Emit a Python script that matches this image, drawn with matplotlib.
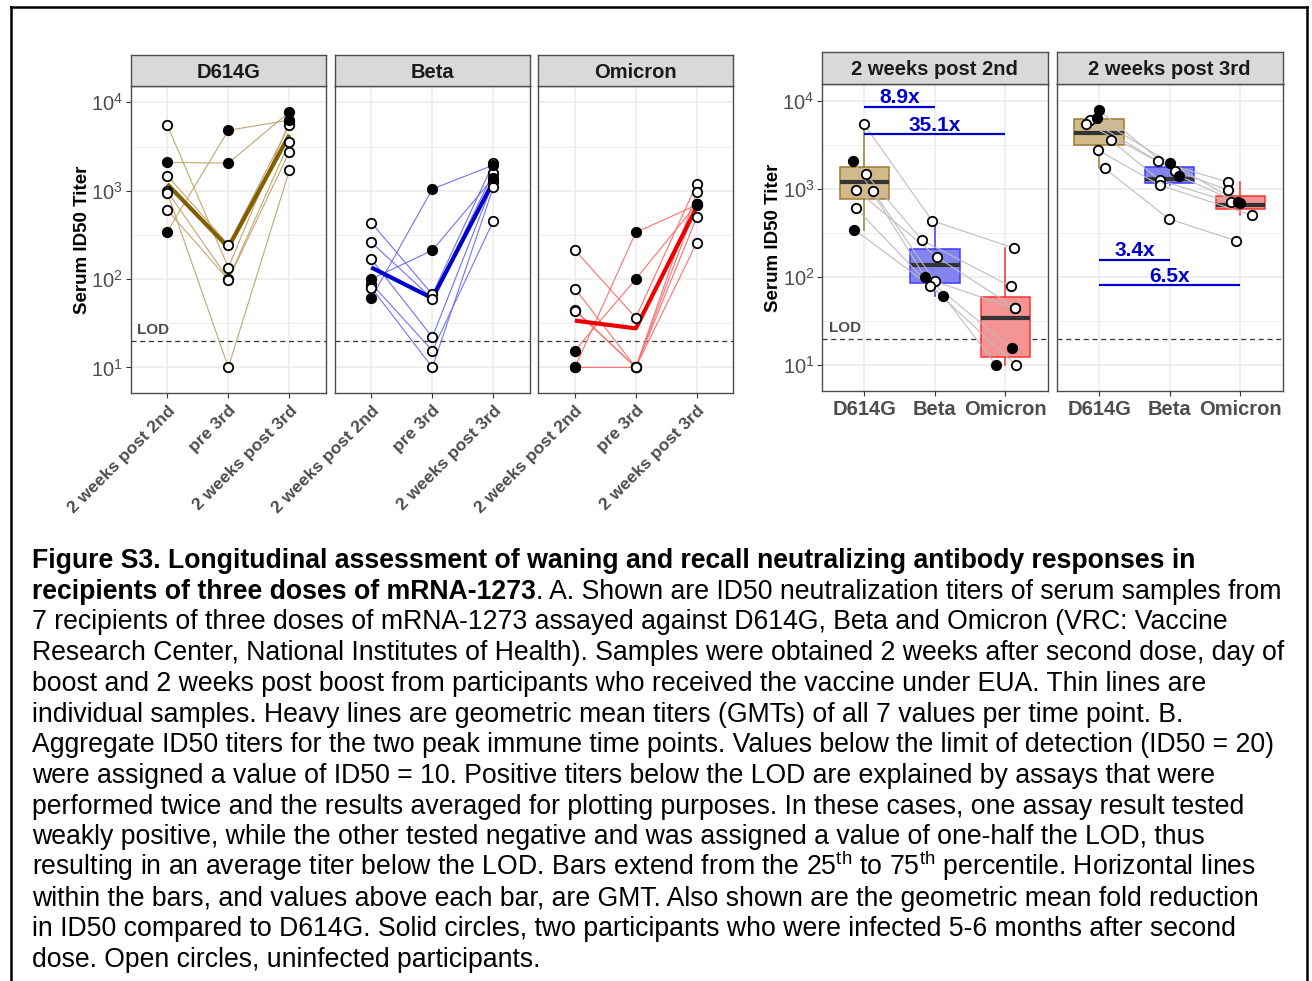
import matplotlib
matplotlib.use("Agg")
import matplotlib.pyplot as plt
import numpy as np
from matplotlib import cbook
from matplotlib.ticker import FixedLocator, NullFormatter
from matplotlib.lines import Line2D

plt.rcParams['font.family'] = ['Liberation Sans', 'DejaVu Sans']
plt.rcParams['mathtext.fontset'] = 'custom'
plt.rcParams['mathtext.rm'] = 'Liberation Sans'
plt.rcParams['mathtext.it'] = 'Liberation Sans:italic'
plt.rcParams['mathtext.bf'] = 'Liberation Sans:bold'

W, H = 1312, 981

variants = ['D614G', 'Beta', 'Omicron']
timepoints = ['2 weeks post 2nd', 'pre 3rd', '2 weeks post 3rd']
boost_panels = ['2 weeks post 2nd', '2 weeks post 3rd']
# participants 1-5 uninfected (open), 6-7 infected (solid)
infected = [False, False, False, False, False, True, True]

d614g_post2 = [5500, 1480, 980, 950, 605, 2090, 344]
d614g_pre3 = [135, 245, 100, 10, 98, 2050, 4820]
d614g_post3 = [6000, 5500, 3530, 1700, 2760, 7770, 6300]
beta_post2 = [435, 260, 168, 89, 80, 100, 61]
beta_pre3 = [67, 60, 22, 15.5, 10, 211, 1045]
beta_post3 = [2050, 1600, 1250, 454, 1100, 1400, 1950]
omicron_post2 = [213, 78, 45, 44, 10, 15.5, 10]
omicron_pre3 = [36.5, 10, 10, 10, 10, 100, 337]
omicron_post3 = [1190, 965, 700, 258, 500, 705, 690]

# horizontal jitter of the points in panel B
jit_post2 = [[-0.01, 0.02, -0.12, 0.12, -0.12, -0.16, -0.14],
             [-0.04, -0.18, 0.03, 0.0, -0.07, -0.14, 0.12],
             [0.12, 0.08, 0.13, 0.13, 0.15, 0.09, -0.13]]
jit_post3 = [[-0.13, -0.18, 0.17, 0.08, -0.02, 0.0, -0.03],
             [-0.17, 0.08, -0.14, -0.01, -0.14, 0.13, 0.01],
             [-0.17, -0.17, -0.13, -0.06, 0.16, -0.04, 0.0]]

fold_post2 = ['8.9x', '35.1x']
fold_post3 = ['3.4x', '6.5x']
LOD = 20

thin_col = ['#C4A670', '#7373EE', '#FF7070']
heavy_col = ['#7F5F00', '#0000CC', '#EE0000']
box_fill = ['#D2B98A', '#8484F0', '#F49494']
box_edge = ['#A07A30', '#3A3AFF', '#FF3030']

data = {
    'D614G': [d614g_post2, d614g_pre3, d614g_post3],
    'Beta': [beta_post2, beta_pre3, beta_post3],
    'Omicron': [omicron_post2, omicron_pre3, omicron_post3],
}

fig = plt.figure(figsize=(W / 100, H / 100), dpi=100)


def px_axes(x0, y0, x1, y1, **kw):
    return fig.add_axes([x0 / W, 1 - y1 / H, (x1 - x0) / W, (y1 - y0) / H], **kw)


def gmean(v):
    return 10 ** np.mean(np.log10(v))


def style_panel(ax, show_y):
    ax.set_yscale('log')
    ax.set_ylim(10 ** 0.71, 10 ** 4.185)
    ax.set_xlim(0.4, 3.6)
    ax.set_yticks([10, 100, 1000, 10000])
    ax.set_yticklabels(['$10^{1}$', '$10^{2}$', '$10^{3}$', '$10^{4}$'])
    ax.yaxis.set_minor_locator(FixedLocator([10 ** 1.5, 10 ** 2.5, 10 ** 3.5]))
    ax.yaxis.set_minor_formatter(NullFormatter())
    ax.set_xticks([1, 2, 3])
    ax.grid(True, which='major', color='#EBEBEB', lw=1.1, zorder=0)
    ax.grid(True, which='minor', axis='y', color='#EBEBEB', lw=0.6, zorder=0)
    ax.set_axisbelow(True)
    ax.tick_params(which='minor', length=0)
    ax.tick_params(which='major', length=3.5, width=0.8, color='#333333',
                   labelcolor='#4D4D4D', labelsize=14.5)
    ax.tick_params(axis='y', pad=2)
    if not show_y:
        ax.tick_params(axis='y', which='major', length=0, labelleft=False)
    for s in ax.spines.values():
        s.set_color('#4D4D4D')
        s.set_linewidth(1.0)
    ax.axhline(LOD, color='#333333', lw=0.9, ls=(0, (4, 3)), zorder=1)


def strip(x0, y0, x1, y1, label):
    sa = px_axes(x0, y0, x1, y1)
    sa.set_facecolor('#D9D9D9')
    sa.set_xticks([])
    sa.set_yticks([])
    for s in sa.spines.values():
        s.set_color('#4D4D4D')
        s.set_linewidth(1.0)
    sa.text(0.5, 0.45, label, ha='center', va='center', fontsize=14.5,
            fontweight='bold', color='#1A1A1A', transform=sa.transAxes)


def draw_points(ax, xs, ys, flags, zorder=4):
    for x, y, f in zip(xs, ys, flags):
        ax.scatter([x], [y], s=46, facecolor='black' if f else 'white',
                   edgecolor='black', linewidth=1.3, zorder=zorder)


# ---------------- Panel A ----------------
panelA_x = [(130.7, 326.0), (334.7, 530.0), (538.3, 733.3)]
for k, var in enumerate(variants):
    x0, x1 = panelA_x[k]
    ax = px_axes(x0, 86, x1, 393)
    style_panel(ax, k == 0)
    strip(x0, 55, x1, 86, var)
    vals = data[var]
    for i in range(7):
        ax.plot([1, 2, 3], [vals[0][i], vals[1][i], vals[2][i]],
                color=thin_col[k], lw=0.8, zorder=2)
    ax.plot([1, 2, 3], [gmean(v) for v in vals], color=heavy_col[k],
            lw=3.0, zorder=3, solid_capstyle='butt')
    for t in range(3):
        draw_points(ax, [t + 1] * 7, vals[t], infected)
    ax.set_xticklabels(timepoints, rotation=45, ha='right',
                       rotation_mode='anchor', fontweight='bold', fontsize=12.5,
                       color='#4D4D4D')
    if k == 0:
        ax.text(0.5, LOD * 1.1, 'LOD', fontsize=11, fontweight='bold',
                color='#4D4D4D', ha='left', va='bottom')
        ax.set_ylabel('Serum ID50 Titer', fontsize=13.5, fontweight='bold',
                      labelpad=0)

# ---------------- Panel B ----------------
panelB_x = [(822.0, 1047.7), (1056.7, 1282.7)]
jits = [jit_post2, jit_post3]
folds = [fold_post2, fold_post3]
fold_y = [[10 ** 3.93, 10 ** 3.62], [10 ** 2.195, 10 ** 1.906]]
for p, tp in enumerate(boost_panels):
    x0, x1 = panelB_x[p]
    ax = px_axes(x0, 84.3, x1, 390.7)
    style_panel(ax, p == 0)
    strip(x0, 51.7, x1, 84.3, tp)
    t = 0 if p == 0 else 2
    sets = [data[v][t] for v in variants]

    # boxes: stats in log space, middle line is the GMT
    stats = []
    for v in sets:
        st = cbook.boxplot_stats(np.log10(v), whis=1.5)[0]
        for key in ['q1', 'q3', 'whislo', 'whishi']:
            st[key] = 10 ** st[key]
        st['med'] = gmean(v)
        st['fliers'] = []
        stats.append(st)
    for k in range(3):
        ax.bxp([stats[k]], positions=[k + 1], widths=0.7, patch_artist=True,
               showfliers=False, showcaps=False,
               boxprops=dict(facecolor=box_fill[k], edgecolor=box_edge[k],
                             lw=1.1, alpha=1.0),
               whiskerprops=dict(color=box_edge[k], lw=1.1),
               medianprops=dict(color='#333333', lw=3.0, solid_capstyle='butt'),
               manage_ticks=False, zorder=2)

    jx = [[k + 1 + jits[p][k][i] for i in range(7)] for k in range(3)]
    for i in range(7):
        ax.plot([jx[0][i], jx[1][i], jx[2][i]],
                [sets[0][i], sets[1][i], sets[2][i]],
                color='#BDBDBD', lw=0.8, zorder=3)
    for k in range(3):
        draw_points(ax, jx[k], sets[k], infected, zorder=5)

    ax.set_xticklabels(variants, fontweight='bold', fontsize=14.5,
                       color='#4D4D4D')
    ax.tick_params(axis='x', pad=3)

    # fold-reduction bars
    for j, (lab, yv) in enumerate(zip(folds[p], fold_y[p])):
        xe = 2 + j
        ax.plot([1, xe], [yv, yv], color='#0000CC', lw=1.6, zorder=6,
                solid_capstyle='butt')
        ax.text((1 + xe) / 2, yv * 0.99, lab, color='#0000CC', fontsize=15,
                fontweight='bold', ha='center', va='bottom', zorder=6)
    if p == 0:
        ax.text(0.5, LOD * 1.1, 'LOD', fontsize=11, fontweight='bold',
                color='#4D4D4D', ha='left', va='bottom')
        ax.set_ylabel('Serum ID50 Titer', fontsize=13.5, fontweight='bold',
                      labelpad=0)

# ---------------- frame ----------------
fig.add_artist(Line2D([11 / W, 1307 / W], [1 - 7 / H, 1 - 7 / H], color='black', lw=1.8))
fig.add_artist(Line2D([11 / W, 11 / W], [1 - 7 / H, 0], color='black', lw=1.8))
fig.add_artist(Line2D([1307 / W, 1307 / W], [1 - 7 / H, 0], color='black', lw=1.8))

# ---------------- caption ----------------
cap_size = 19.2
bold_l1 = 'Figure S3. Longitudinal assessment of waning and recall neutralizing antibody responses in'
bold_l2 = 'recipients of three doses of mRNA-1273'
rest_l2 = '. A. Shown are ID50 neutralization titers of serum samples from'
lines = [
    '7 recipients of three doses of mRNA-1273 assayed against D614G, Beta and Omicron (VRC: Vaccine',
    'Research Center, National Institutes of Health). Samples were obtained 2 weeks after second dose, day of',
    'boost and 2 weeks post boost from participants who received the vaccine under EUA. Thin lines are',
    'individual samples. Heavy lines are geometric mean titers (GMTs) of all 7 values per time point. B.',
    'Aggregate ID50 titers for the two peak immune time points. Values below the limit of detection (ID50 = 20)',
    'were assigned a value of ID50 = 10. Positive titers below the LOD are explained by assays that were',
    'performed twice and the results averaged for plotting purposes. In these cases, one assay result tested',
    'weakly positive, while the other tested negative and was assigned a value of one-half the LOD, thus',
    r'resulting in an average titer below the LOD. Bars extend from the 25$^{\mathrm{th}}$ to 75$^{\mathrm{th}}$ percentile. Horizontal lines',
    'within the bars, and values above each bar, are GMT. Also shown are the geometric mean fold reduction',
    'in ID50 compared to D614G. Solid circles, two participants who were infected 5-6 months after second',
    'dose. Open circles, uninfected participants.',
]
x_cap = 32 / W
base0 = 568
step = 30.7
fig.text(x_cap, 1 - base0 / H, bold_l1, fontsize=cap_size, fontweight='bold',
         va='baseline', ha='left')
b2 = fig.text(x_cap, 1 - (base0 + step) / H, bold_l2, fontsize=cap_size,
              fontweight='bold', va='baseline', ha='left')
r = fig.canvas.get_renderer()
bb = b2.get_window_extent(renderer=r)
fig.text(bb.x1 / W, 1 - (base0 + step) / H, rest_l2, fontsize=cap_size,
         va='baseline', ha='left')
for i, ln in enumerate(lines):
    fig.text(x_cap, 1 - (base0 + step * (i + 2)) / H, ln, fontsize=cap_size,
             va='baseline', ha='left')

fig.savefig('out.png', dpi=100)
